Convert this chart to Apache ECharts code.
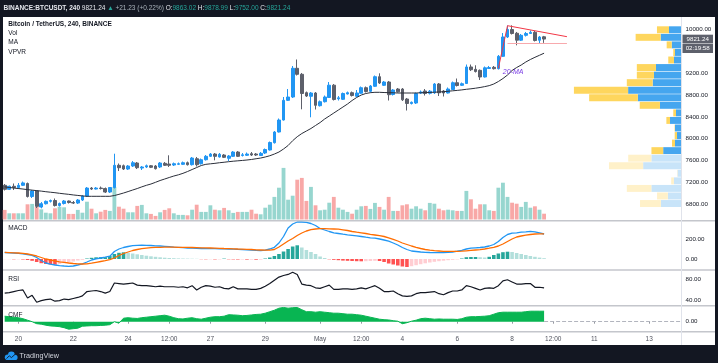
<!DOCTYPE html>
<html>
<head>
<meta charset="utf-8">
<script src="https://cdn.jsdelivr.net/npm/echarts@6.0.0/dist/echarts.min.js"></script>
<style>
html,body{margin:0;padding:0;background:#131722;overflow:hidden;}
#bg{position:absolute;left:3px;top:17px;width:712px;height:328px;background:#ffffff;}
#c{position:absolute;left:0;top:0;width:718px;height:363px;}
</style>
</head>
<body>
<div id="bg"></div>
<div id="c"></div>
<script>
// ---------------- DATA ----------------
// 4h candles, BINANCE:BTCUSDT, first candle 2020-04-19 12:00 — [open, close, low, high]
const ohlc = [
[7147,7074,7052,7171],[7074,7129,7061,7143],[7129,7107,7061,7180],[7107,7147,7079,7189],[7147,7191,7134,7216],
[7180,6942,6924,7198],[6942,7043,6915,7061],[7043,6763,6732,7052],[6750,6810,6726,6841],[6810,6854,6796,6869],
[6854,6869,6832,6887],[6869,6777,6759,6906],[6777,6814,6759,6832],[6814,6860,6796,6878],[6860,6832,6814,6869],
[6832,6823,6805,6860],[6823,6878,6805,6896],[6878,6951,6860,6969],[6951,7097,6933,7116],[7097,7079,7061,7116],
[7079,7097,7070,7116],[7097,7088,7070,7125],[7088,7024,7006,7107],[7024,7107,7006,7116],[7107,7513,7088,7725],
[7513,7469,7408,7546],[7505,7445,7427,7527],[7445,7500,7427,7518],[7500,7560,7482,7591],[7555,7469,7445,7573],
[7463,7482,7427,7500],[7482,7505,7463,7527],[7505,7476,7463,7518],[7500,7451,7436,7518],[7482,7555,7463,7573],
[7549,7513,7500,7573],[7536,7513,7482,7696],[7518,7542,7500,7564],[7531,7542,7518,7564],[7531,7560,7518,7582],
[7560,7524,7509,7582],[7524,7646,7509,7665],[7633,7524,7491,7665],[7542,7615,7527,7637],[7615,7677,7600,7701],
[7677,7719,7665,7738],[7719,7677,7604,7738],[7665,7714,7655,7738],[7701,7659,7646,7719],[7641,7683,7591,7701],
[7677,7756,7665,7774],[7756,7677,7665,7774],[7692,7705,7674,7738],[7696,7719,7683,7747],[7725,7701,7683,7756],
[7719,7701,7683,7738],[7692,7732,7683,7756],[7738,7802,7719,7820],[7793,7930,7783,7948],[7926,8122,7911,8140],
[8122,8341,8113,8369],[8341,8701,8332,8762],[8701,8762,8689,8908],[8762,9287,8744,9329],[9287,9177,9155,9448],
[9177,8826,8537,9201],[8841,8780,8762,8862],[8775,8835,8391,8853],[8835,8610,8533,8853],[8603,8676,8588,8698],
[8676,8762,8661,8789],[8753,8978,8744,9036],[8978,8716,8698,9000],[8729,8747,8698,8780],[8720,8826,8707,8844],
[8817,8841,8808,8862],[8841,8789,8771,8862],[8775,8835,8762,8890],[8831,8932,8817,8954],[8932,8862,8844,8954],
[8866,8963,8844,8981],[8958,9133,8945,9155],[9133,9018,9000,9195],[8976,9036,8963,9055],[9036,8804,8698,9055],
[8808,8890,8789,8908],[8908,8857,8844,8926],[8908,8711,8689,8926],[8725,8643,8515,8744],[8643,8665,8625,8680],
[8652,8826,8634,8844],[8835,8853,8817,8881],[8872,8826,8789,8908],[8830,8868,8808,8890],[8839,9000,8817,9018],
[9000,8839,8780,9018],[8872,8835,8771,8890],[8835,8908,8826,8936],[8899,9023,8890,9045],[9023,8972,8954,9100],
[8976,9005,8963,9027],[9009,9311,9000,9356],[9311,9261,9237,9356],[9268,9228,9210,9342],[9250,9128,9073,9265],
[9128,9296,9118,9320],[9283,9301,9274,9329],[9305,9280,9265,9329],[9280,9506,9265,9530],[9506,9859,9493,9932],
[9859,9996,9841,10070],[9996,9923,9905,10073],[9927,9801,9707,9951],[9801,9890,9786,9914],[9890,9923,9868,9951],
[9923,9945,9914,9978],[9945,9795,9777,9969],[9799,9859,9731,9878],[9863.02,9821.24,9752,9878.99]
];
// volume (thousand BTC)
const volume = [
4.8,3.1,3.1,3.1,3.1,7.6,7.8,6.4,5.1,3.4,
3.1,5.6,6.4,6.1,2.8,2.8,4.8,3.4,8.9,5.4,
3.1,3.9,4.8,4.3,16.3,6.4,5.4,3.6,3.6,6.8,
7.3,3.1,2.8,1.8,3.6,4.8,5.6,3.1,2.3,2.3,
2.1,4.9,7.4,3.8,3.8,7.1,4.9,4.6,5.8,4.6,
3.3,3.8,3.8,3.8,4.9,2.9,2.6,5.9,7.4,11.3,
15.9,25.8,9.9,11.9,19.9,20.8,9.3,16.3,7.1,4.6,
4.9,8.4,11.3,5.9,4.9,3.8,2.9,4.9,6.6,6.8,
5.3,8.3,6.3,4.9,11.3,4.3,4.3,7.1,7.6,5.4,
6.6,5.4,4.6,8.3,7.9,5.4,4.6,4.9,4.6,4.3,
4.3,14.3,10.1,5.4,7.6,7.6,4.6,4.3,15.9,18.4,
11.3,8.4,7.9,6.3,8.8,5.9,6.6,4.9,2.9
];
// 20-MA
const ma20 = [
7118,7108,7097,7088,7079,7068,7059,7050,7041,7030,
7021,7012,7001,6991,6982,6971,6962,6953,6946,6946,
6946,6946,6946,6946,6960,6982,7006,7033,7061,7088,
7119,7147,7171,7202,7235,7262,7290,7317,7339,7366,
7399,7436,7472,7509,7531,7540,7549,7560,7569,7579,
7588,7595,7602,7610,7620,7633,7646,7665,7688,7719,
7756,7811,7875,7963,8036,8094,8140,8186,8241,8295,
8360,8414,8469,8524,8579,8634,8698,8753,8798,8826,
8841,8848,8848,8844,8841,8839,8835,8835,8835,8835,
8835,8839,8842,8846,8850,8853,8859,8868,8875,8883,
8892,8903,8912,8923,8936,8952,8970,9000,9045,9100,
9164,9247,9301,9347,9402,9448,9488,9525,9563
];
const macdLine = [
65,62,60,57,52,45,37,15,-15,-40,
-52,-60,-66,-70,-73,-70,-60,-48,-30,-10,
2,10,18,28,75,100,115,125,133,137,
138,137,135,132,130,127,123,119,116,113,
110,108,106,105,104,103,103,102,101,100,
98,96,94,92,89,86,84,88,100,117,
160,225,310,350,370,370,367,355,335,305,
290,275,262,255,248,242,237,232,225,218,
212,208,200,190,178,160,140,115,95,80,
75,70,67,65,64,63,64,66,70,78,
87,100,108,112,115,120,130,145,175,215,
245,258,262,268,272,277,272,262,250
];
const signalLine = [
66,64,62,60,56,50,42,30,15,0,
-10,-20,-28,-34,-40,-45,-48,-50,-48,-42,
-33,-25,-17,-7,10,35,55,70,85,95,
103,109,113,116,117,118,118,118,117,117,
116,115,114,112,111,110,109,107,105,104,
102,100,99,97,95,92,90,88,89,95,
120,150,180,205,235,260,280,293,300,303,
303,302,300,298,292,285,275,268,262,255,
247,240,233,225,212,197,180,160,145,130,
117,105,95,88,83,80,77,76,76,77,
78,82,86,90,94,100,108,117,130,150,
175,200,220,230,238,245,250,252,252
];
const macdHist = [
-2,-2,-3,-3,-5,-10,-18,-30,-42,-50,
-55,-57,-50,-42,-35,-25,-15,-8,5,12,
17,18,18,30,50,62,67,62,55,47,
40,33,27,22,17,13,10,8,6,5,
4,3,2,-2,-3,-3,-4,-4,4,-3,
-4,-5,-5,-6,-6,-7,-6,5,15,30,
50,75,100,125,137,115,90,70,50,25,
10,-3,-8,-12,-16,-18,-20,-22,-23,-22,
-20,-18,-20,-30,-45,-55,-65,-75,-80,-72,
-62,-52,-43,-35,-28,-22,-17,-12,-8,-4,
5,18,20,20,18,15,22,40,55,68,
73,70,60,50,40,30,22,14,8
];
const rsi = [
54,55,57,59,60,45,50,37,40,42,
43,39,40,43,42,44,46,49,57,58,
59,57,54,57,73,72,71,72,73,69,
68,68,67,66,67,66,66,66,65,66,
64,68,60,65,68,67,65,66,63,62,
66,62,62,62,61,61,63,67,72,78,
84,87,89,93,89,71,69,68,64,63,
66,69,61,61,62,62,61,62,64,62,
65,68,63,57,57,58,53,49,48,49,
53,55,55,56,57,53,51,55,58,58,
60,68,66,63,60,63,64,63,68,77,
79,75,71,71,72,72,65,65,64
];
const cmf = [
0.11,0.10,0.09,0.08,0.06,0.03,0.0,-0.04,-0.05,-0.07,
-0.085,-0.09,-0.1,-0.12,-0.15,-0.14,-0.13,-0.09,-0.085,-0.08,
-0.08,-0.075,-0.07,-0.06,0.0,-0.03,0.07,0.08,0.07,0.065,
0.08,0.09,0.1,0.11,0.12,0.13,0.11,0.08,0.06,0.055,
0.07,0.08,0.06,0.05,0.07,0.09,0.1,0.1,0.11,0.14,
0.135,0.13,0.12,0.125,0.135,0.145,0.15,0.17,0.2,0.23,
0.27,0.285,0.27,0.28,0.285,0.24,0.2,0.2,0.19,0.2,
0.19,0.18,0.17,0.17,0.16,0.15,0.15,0.14,0.13,0.11,
0.09,0.07,0.05,0.04,0.035,0.02,0.01,-0.04,-0.02,0.01,
0.03,0.06,0.07,0.06,0.05,0.055,0.05,0.05,0.05,0.045,
0.06,0.09,0.1,0.1,0.105,0.11,0.12,0.15,0.18,0.19,
0.19,0.19,0.19,0.19,0.2,0.21,0.21,0.21,0.21
];
// Volume profile (visible range), rows from top (high price) to bottom
const vpvrUp   = [12.7,21,10,6.7,7.7,25.7,27.7,29,53.5,43.8,21.7,5.7,11.7,6.7,4.7,6.7,18.5,30.3,38.5,4.2,7.8,30.3,13.8,20.8];
const vpvrDown = [12,25,5,1.7,5.7,19.1,17.1,25.8,54.1,48.6,20.2,2.7,3.6,0.4,2.3,3,11.7,23.1,34.1,0.4,2.7,24.5,10.8,20.8];
const vpvrValueAreaRows = 17; // rows after this are outside the value area
const vpvrBins = vpvrUp.map((_, k) => 'bin ' + (k + 1));
// x-axis tick labels
const tickIdx  = [3, 15, 27, 36, 45, 57, 69, 78, 87, 99, 111, 120, 129, 141];
const tickText = ['20','22','24','12:00','27','29','May','12:00','4','6','8','12:00','11','13'];
// drawings on the price pane: [index, price]
const drawings = [
  {from:[108, 9287], to:[110, 10066], color:'#f23645'},
  {from:[110, 10066], to:[123, 9865], color:'#f23645'},
  {from:[110, 9744], to:[123, 9744], color:'#f8a9ad'}
];
const maLabelAt = [108, 9219];
const SLOTS = 149;
const categories = [];
(function(){
  const t0 = Date.UTC(2020, 3, 19, 12);
  for (let k = 0; k < SLOTS; k++) {
    categories.push(new Date(t0 + k * 4 * 3600 * 1000).toISOString().slice(0, 16).replace('T', ' '));
  }
})();

// ---------------- CHART ----------------
const FONT = '"Liberation Sans", Arial, sans-serif';
const AX = '#131722';
const UP = '#2196f3', DN = '#5d606b';
const VOL_UP = '#97d6cf', VOL_DN = '#f8a8a7';
const chart = echarts.init(document.getElementById('c'), null, {renderer: 'canvas'});

const TL = 2.4, TR = 34.5;
const isTick = (i) => tickIdx.indexOf(i) >= 0;
function catAxis(gi, showLabels) {
  return {
    type: 'category', gridIndex: gi, data: categories, boundaryGap: true,
    axisLine: {show: false},
    axisTick: showLabels ? {show: true, interval: isTick, length: 2, alignWithLabel: true, lineStyle: {color: '#9598a1'}} : {show: false},
    axisLabel: showLabels ? {
      show: true, interval: isTick, margin: 4, fontSize: 6.5, color: '#50535e', fontFamily: FONT,
      formatter: (v, i) => { const p = tickIdx.indexOf(i); return p >= 0 ? tickText[p] : ''; }
    } : {show: false},
    splitLine: {show: false}
  };
}
function valAxis(gi, min, max, interval, fmt) {
  return {
    type: 'value', gridIndex: gi, position: 'right', min: min, max: max, interval: interval,
    axisLine: {show: false}, axisTick: {show: false}, splitLine: {show: false},
    axisLabel: {margin: 2, fontSize: 6.2, color: AX, fontFamily: FONT, formatter: fmt}
  };
}

const histColors = macdHist.map((v, k) => {
  const p = k > 0 ? macdHist[k - 1] : v;
  if (v >= 0) return v >= p ? '#26a69a' : '#b2dfdb';
  return v < p ? '#ff5252' : '#ffcdd2';
});

const option = {
  animation: false,
  backgroundColor: 'transparent',
  textStyle: {fontFamily: FONT},
  grid: [
    {left: TL, right: TR, top: 17, height: 203.7, outerBoundsMode: 'none'},
    {left: TL, right: TR, top: 139.5, height: 80, outerBoundsMode: 'none'},
    {left: 561, right: 36.3, top: 26, height: 181.3, outerBoundsMode: 'none'},
    {left: TL, right: TR, top: 221, height: 48, outerBoundsMode: 'none'},
    {left: TL, right: TR, top: 270, height: 36, outerBoundsMode: 'none'},
    {left: TL, right: TR, top: 305.7, height: 26, outerBoundsMode: 'none'}
  ],
  xAxis: [
    catAxis(0, false),
    catAxis(1, false),
    {type: 'value', gridIndex: 2, inverse: true, min: 0, max: 120.5, show: false},
    catAxis(3, false),
    catAxis(4, false),
    catAxis(5, true)
  ],
  yAxis: [
    valAxis(0, 6500, 10225, 100, v => (v % 400 === 0 ? v.toFixed(2) : '')),
    {type: 'value', gridIndex: 1, min: 0, max: 40, show: false},
    {type: 'category', gridIndex: 2, data: vpvrBins, inverse: true, show: false},
    valAxis(3, -100, 380, 100, v => (v === 0 || v === 200 ? v.toFixed(2) : '')),
    valAxis(4, 30, 97.3, 10, v => (v === 40 || v === 80 ? v.toFixed(2) : '')),
    valAxis(5, -0.2, 0.32, 0.1, v => (Math.abs(v) < 1e-9 ? '0.00' : ''))
  ],
  series: [
    {
      name: 'Vol', type: 'bar', xAxisIndex: 1, yAxisIndex: 1, barWidth: '84%', z: 1,
      data: volume.map((v, k) => ({value: v, itemStyle: {color: ohlc[k][1] >= ohlc[k][0] ? VOL_UP : VOL_DN}}))
    },
    {
      name: 'BTCUSDT', type: 'candlestick', xAxisIndex: 0, yAxisIndex: 0, barWidth: 3.2, z: 3,
      data: ohlc,
      itemStyle: {color: UP, color0: DN, borderColor: UP, borderColor0: DN, borderWidth: 1},
      markLine: {
        silent: true, symbol: 'none', animation: false, label: {show: false},
        data: drawings.map(d => [
          {coord: [categories[d.from[0]], d.from[1]], lineStyle: {color: d.color, width: 1, type: 'solid'}},
          {coord: [categories[d.to[0]], d.to[1]]}
        ])
      }
    },
    {
      name: 'MA', type: 'line', xAxisIndex: 0, yAxisIndex: 0, data: ma20, showSymbol: false, z: 4,
      lineStyle: {color: '#2a2e39', width: 1},
      markPoint: {
        silent: true, symbol: 'circle', symbolSize: 1, itemStyle: {color: 'rgba(0,0,0,0)'},
        label: {show: true, position: 'right', distance: 4, formatter: '20-MA', color: '#7b3fe4',
                fontStyle: 'italic', fontSize: 7, fontFamily: FONT},
        data: [{coord: [categories[maLabelAt[0]], maLabelAt[1]]}]
      }
    },
    {
      name: 'VPVR up', type: 'bar', xAxisIndex: 2, yAxisIndex: 2, stack: 'vp', barWidth: '92%', z: 2,
      data: vpvrUp.map((v, k) => ({value: v, itemStyle: {color: k >= vpvrValueAreaRows ? '#c8e4f9' : '#45a6ef'}}))
    },
    {
      name: 'VPVR down', type: 'bar', xAxisIndex: 2, yAxisIndex: 2, stack: 'vp', barWidth: '92%', z: 2,
      data: vpvrDown.map((v, k) => ({value: v, itemStyle: {color: k >= vpvrValueAreaRows ? '#fff1c9' : '#fed65e'}}))
    },
    {
      name: 'Histogram', type: 'bar', xAxisIndex: 3, yAxisIndex: 3, barWidth: '78%', z: 2,
      data: macdHist.map((v, k) => ({value: v, itemStyle: {color: histColors[k]}}))
    },
    {name: 'MACD', type: 'line', xAxisIndex: 3, yAxisIndex: 3, data: macdLine, showSymbol: false, z: 3,
     lineStyle: {color: '#2196f3', width: 1.3}},
    {name: 'Signal', type: 'line', xAxisIndex: 3, yAxisIndex: 3, data: signalLine, showSymbol: false, z: 3,
     lineStyle: {color: '#ff6d00', width: 1.3}},
    {name: 'RSI', type: 'line', xAxisIndex: 4, yAxisIndex: 4, data: rsi, showSymbol: false, z: 3,
     lineStyle: {color: '#131722', width: 1.2}},
    {
      name: 'CMF', type: 'line', xAxisIndex: 5, yAxisIndex: 5, data: cmf, showSymbol: false, z: 3,
      lineStyle: {color: '#08b552', width: 1}, areaStyle: {color: '#08b552', opacity: 1, origin: 0},
      markLine: {
        silent: true, symbol: 'none', label: {show: false},
        lineStyle: {color: '#b2b5be', type: 'dashed', width: 1},
        data: [[{coord: [categories[ohlc.length - 1], 0]}, {coord: [categories[SLOTS - 1], 0]}]]
      }
    }
  ]
};
chart.setOption(option);

// ---------- decorations (text, separators, price tag) ----------
function txt(x, y, s, opt) {
  opt = opt || {};
  return {
    type: 'text', x: x, y: y, z: 70,
    style: Object.assign({
      text: s, fill: opt.fill || AX, fontSize: opt.size || 6.5, fontFamily: FONT,
      fontWeight: opt.weight || 'normal', fontStyle: opt.style || 'normal',
      align: opt.align || 'left', textAlign: opt.align || 'left',
      verticalAlign: 'middle', textVerticalAlign: 'middle'
    }, opt.rich ? {rich: opt.rich} : {})
  };
}
const g = [];
[220.7, 270, 305.7, 331.7].forEach(y => g.push({
  type: 'line', z: 50, shape: {x1: 3, y1: y, x2: 715, y2: y}, style: {stroke: '#c4c6cc', lineWidth: 1.4}
}));
g.push({type: 'line', z: 50, shape: {x1: 681.5, y1: 17, x2: 681.5, y2: 345}, style: {stroke: '#e0e3eb', lineWidth: 1}});

// header
g.push(txt(3.5, 8.5,
  '{b|BINANCE:BTCUSDT, 240} {w|9821.24} {t|▲} {s|+21.23 (+0.22%)} {w|O:}{t|9863.02} {w|H:}{t|9878.99} {w|L:}{t|9752.00} {w|C:}{t|9821.24}',
  {rich: {
    b: {fill: '#e6e8ee', fontSize: 6.5, fontWeight: 'bold', fontFamily: FONT},
    w: {fill: '#e6e8ee', fontSize: 6.5, fontFamily: FONT},
    t: {fill: '#26a69a', fontSize: 6.5, fontFamily: FONT},
    s: {fill: '#a9b3bb', fontSize: 6.5, fontFamily: FONT}
  }}));
// legends
g.push(txt(8.3, 24.5, 'Bitcoin / TetherUS, 240, BINANCE', {weight: 'bold'}));
g.push(txt(8.3, 33.5, 'Vol'));
g.push(txt(8.3, 42.5, 'MA'));
g.push(txt(8.3, 51.8, 'VPVR'));
g.push(txt(8.3, 228.5, 'MACD'));
g.push(txt(8.3, 279.5, 'RSI'));
g.push(txt(8.3, 315, 'CMF'));

// last price tag
const last = ohlc[ohlc.length - 1];
const py = chart.convertToPixel({yAxisIndex: 0}, last[1]);
const tagColor = last[1] >= last[0] ? UP : DN;
g.push({type: 'rect', z: 60, shape: {x: 682.5, y: py - 4.4, width: 30.5, height: 8.8}, style: {fill: tagColor}});
g.push(txt(697.7, py, last[1].toFixed(2), {fill: '#ffffff', size: 6.2, align: 'center'}));
g.push({type: 'rect', z: 60, shape: {x: 682.5, y: py + 4.9, width: 30.5, height: 9}, style: {fill: tagColor}});
g.push(txt(697.7, py + 9.4, '02:19:58', {fill: '#ffffff', size: 6.2, align: 'center'}));

// footer logo (simple cloud mark)
g.push({type: 'circle', z: 60, shape: {cx: 7.6, cy: 357.2, r: 2.8}, style: {fill: '#2196f3'}});
g.push({type: 'circle', z: 60, shape: {cx: 11.4, cy: 355.0, r: 3.4}, style: {fill: '#2196f3'}});
g.push({type: 'circle', z: 60, shape: {cx: 15.0, cy: 357.4, r: 2.6}, style: {fill: '#2196f3'}});
g.push({type: 'rect', z: 60, shape: {x: 7.6, y: 357.2, width: 7.4, height: 2.8}, style: {fill: '#2196f3'}});
g.push({type: 'polyline', z: 61, shape: {points: [[6.5, 358.6], [9.3, 355.8], [11.4, 357.6], [15, 354.4]]},
        style: {stroke: '#131722', lineWidth: 0.9, fill: 'none'}});
g.push(txt(19.5, 356, 'TradingView', {fill: '#d1d4dc', size: 7.2}));

chart.setOption({graphic: {elements: g}});
</script>
</body>
</html>
